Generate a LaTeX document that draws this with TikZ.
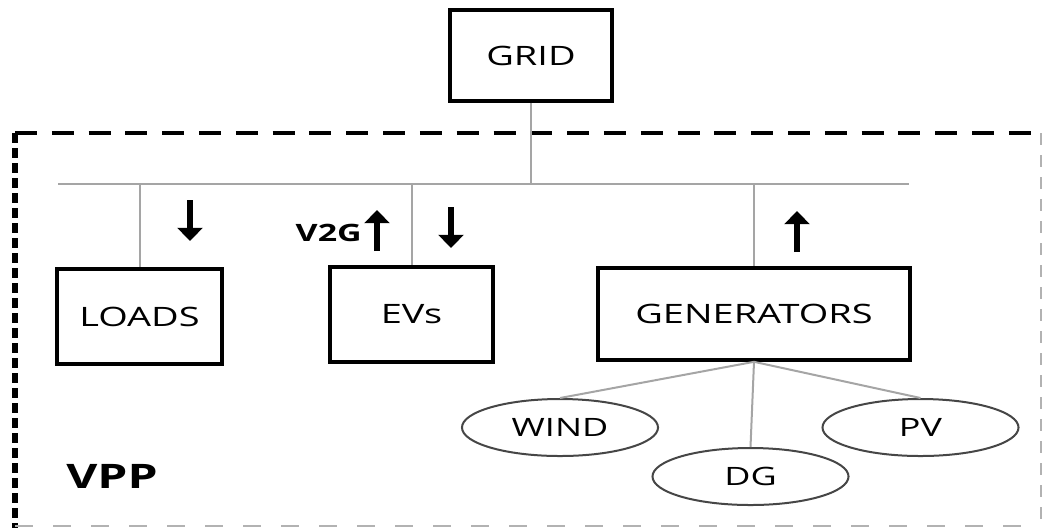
\documentclass[tikz,border=0pt]{standalone}
\usepackage{fontspec}
\setmainfont[FakeStretch=1.42]{Open Sans}
\usepackage{tikz}
\usetikzlibrary{shapes.geometric, arrows.meta, calc}
\definecolor{cWire}{RGB}{165,165,165}
\definecolor{cEdge}{RGB}{70,70,70}
\tikzset{
	blk/.style      ={rectangle, draw=black, line width=0.09cm, inner sep=0pt, align=center, font=\fontsize{19}{22}\selectfont},
	src/.style      ={ellipse, draw=cEdge, line width=0.05cm, inner sep=0pt, minimum width=4.9cm, minimum height=1.425cm, font=\fontsize{18}{21}\selectfont},
	wire/.style     ={cWire, line width=0.05cm},
	flowarrow/.style={-{Triangle[length=0.33cm, width=0.62cm]}, line width=0.15cm},
	% frame of the plant
	frametop/.style ={dash pattern=on 0.55cm off 0.37cm, line width=0.1cm},
	frameside/.style={dash pattern=on 0.25cm off 0.125cm, line width=0.13cm},
	framefar/.style ={gray!60, dash pattern=on 0.3cm off 0.25cm, line width=0.04cm},
}
\begin{document}
\begin{tikzpicture}[x=0.025cm, y=-0.025cm]
	\useasboundingbox (0,0) rectangle (1043,528);
	\draw[frametop] (15,133) -- (1041,133);
	\draw[frameside] (15,133) -- (15,528);
	\draw[framefar] (1041,133) -- (1041,528);
	\draw[framefar, dash pattern=on 0.45cm off 0.5cm] (15,526) -- (1041,526);
	\node[blk, minimum width=4.05cm, minimum height=2.275cm] (grid) at (531,55.5) {GRID};
	\node[blk, minimum width=4.125cm, minimum height=2.375cm] (loads) at (139.5,316.5) {LOADS};
	\node[blk, minimum width=4.075cm, minimum height=2.375cm] (evs) at (411.5,314.5) {EVs};
	\node[blk, minimum width=7.8cm, minimum height=2.3cm] (gen) at (754,314) {GENERATORS};
	\node[src] (wind) at (560,427.5) {WIND};
	\node[src] (dg) at (750.5,476.5) {DG};
	\node[src] (pv) at (920.5,427.5) {PV};
	\node[font=\bfseries\fontsize{17}{20}\selectfont, anchor=east, inner sep=0pt] (v2g) at (362,233) {V2G};
	\node[font=\bfseries\fontsize{24}{28}\selectfont] (vpp) at (112,476) {VPP};
	% bus and feeders
	\coordinate (busL) at (58,184);
	\coordinate (busR) at (909,184);
	\draw[wire] (busL) -- (busR);
	\draw[wire] (grid.south) -- (grid.south |- busL);
	\draw[wire] (loads.north |- busL) -- (loads.north);
	\draw[wire] (evs.north |- busL) -- (evs.north);
	\draw[wire] (gen.north |- busL) -- (gen.north);
	\draw[wire] (gen.south) -- (wind.north);
	\draw[wire] (gen.south) -- (dg.north);
	\draw[wire] (gen.south) -- (pv.north);
	% power flow
	\draw[flowarrow] (190,200) -- (190,241);
	\draw[flowarrow] (451,207) -- (451,248);
	\draw[flowarrow] (377,251) -- (377,210);
	\draw[flowarrow] (797,252) -- (797,211);
\end{tikzpicture}
\end{document}
